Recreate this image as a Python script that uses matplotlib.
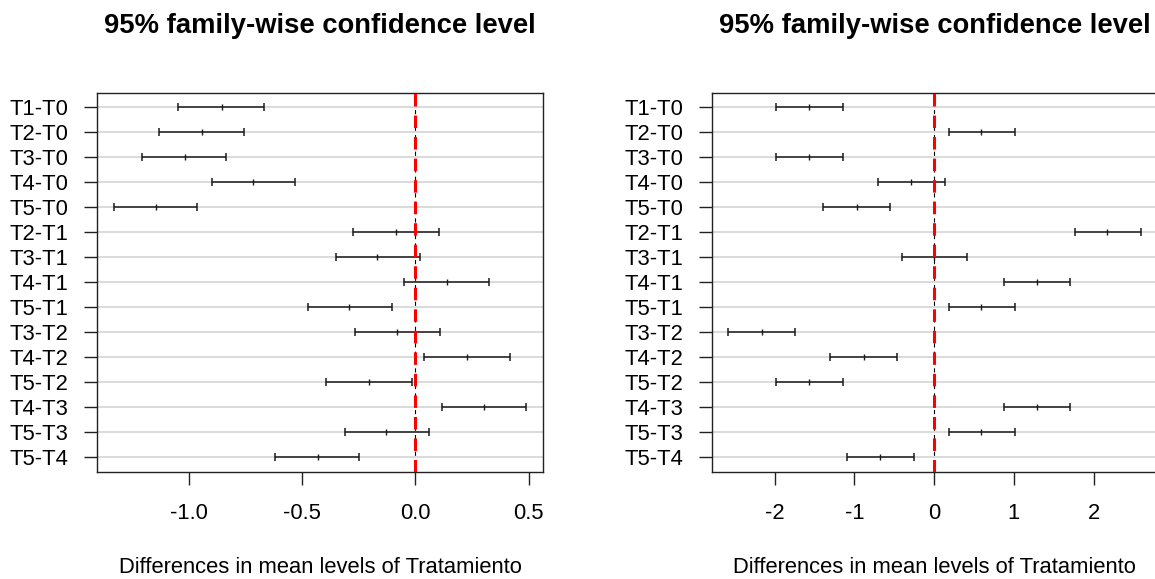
import matplotlib
matplotlib.use("Agg")
import matplotlib.pyplot as plt
import numpy as np

plt.rcParams['font.family'] = ['Liberation Sans', 'DejaVu Sans']
plt.rcParams['axes.unicode_minus'] = False
plt.rcParams['lines.scale_dashes'] = False

comparisons = ["T1-T0", "T2-T0", "T3-T0", "T4-T0", "T5-T0", "T2-T1", "T3-T1",
               "T4-T1", "T5-T1", "T3-T2", "T4-T2", "T5-T2", "T4-T3", "T5-T3", "T5-T4"]

diff_left = [-0.855, -0.944, -1.019, -0.718, -1.144, -0.085, -0.168, 0.140,
             -0.292, -0.080, 0.227, -0.205, 0.304, -0.130, -0.431]
lwr_left = [-1.046, -1.132, -1.208, -0.900, -1.333, -0.274, -0.350, -0.049,
            -0.475, -0.268, 0.039, -0.394, 0.120, -0.311, -0.619]
upr_left = [-0.668, -0.757, -0.838, -0.531, -0.963, 0.103, 0.019, 0.327,
            -0.103, 0.109, 0.416, -0.016, 0.491, 0.059, -0.248]

diff_right = [-1.573, 0.592, -1.573, -0.292, -0.969, 2.169, 0.000, 1.284,
              0.592, -2.158, -0.881, -1.573, 1.284, 0.592, -0.685]
lwr_right = [-1.978, 0.183, -1.978, -0.701, -1.394, 1.765, -0.400, 0.876,
             0.183, -2.583, -1.310, -1.978, 0.876, 0.183, -1.094]
upr_right = [-1.143, 1.018, -1.143, 0.133, -0.559, 2.595, 0.413, 1.706,
             1.018, -1.745, -0.468, -1.143, 1.698, 1.018, -0.259]

ticks_left = [-1.0, -0.5, 0.0, 0.5]
ticks_left_labels = ["-1.0", "-0.5", "0.0", "0.5"]
ticks_right = [-2, -1, 0, 1, 2]
ticks_right_labels = ["-2", "-1", "0", "1", "2"]

title_text = "95% family-wise confidence level"
xlabel_text = "Differences in mean levels of Tratamiento"

W, H = 1155, 579
fig = plt.figure(figsize=(W / 100, H / 100), dpi=100)

ax_w = 446 / W
ax_h = 378.5 / H
ax_b = (H - 471.5) / H
axL = fig.add_axes([97 / W, ax_b, ax_w, ax_h])
axR = fig.add_axes([711.7 / W, ax_b, ax_w, ax_h])


def draw(ax, diff, lwr, upr, ticks, tick_labels):
    n = len(comparisons)
    yvals = np.arange(n, 0, -1)
    lo, hi = min(lwr), max(upr)
    ext = 0.04 * (hi - lo)
    ax.set_xlim(lo - ext, hi + ext)
    ax.set_ylim(1 - 0.04 * (n - 1), n + 0.04 * (n - 1))
    for y in yvals:
        ax.axhline(y, color='#d8d8d8', lw=1.3, zorder=1)
    ax.axvline(0, color='black', lw=0.8, dashes=(3, 3), zorder=2)
    ax.hlines(yvals, lwr, upr, color='#1a1a1a', lw=1.1, zorder=3)
    ax.plot(lwr, yvals, ls='none', marker='|', ms=5.5, mew=1.1, color='#1a1a1a', zorder=3)
    ax.plot(upr, yvals, ls='none', marker='|', ms=5.5, mew=1.1, color='#1a1a1a', zorder=3)
    ax.plot(diff, yvals, ls='none', marker='|', ms=5.0, mew=1.0, color='#1a1a1a', zorder=3)
    ax.axvline(0, color='red', lw=2.2, dashes=(9, 6.5), zorder=4)
    ax.set_yticks(yvals)
    ax.set_yticklabels(comparisons, fontsize=15.8)
    ax.set_xticks(ticks)
    ax.set_xticklabels(tick_labels, fontsize=15.8)
    ax.tick_params(axis='both', length=9.4, width=1.0, color='#222222')
    ax.tick_params(axis='x', pad=13.5)
    ax.tick_params(axis='y', pad=11.0)
    for sp in ax.spines.values():
        sp.set_linewidth(1.0)
        sp.set_color('#222222')
    ax.annotate(title_text, xy=(0.5, 1), xycoords='axes fraction',
                xytext=(0, 43.2), textcoords='offset points',
                ha='center', va='baseline', fontsize=19.7, fontweight='bold')
    ax.annotate(xlabel_text, xy=(0.5, 0), xycoords='axes fraction',
                xytext=(0, -73), textcoords='offset points',
                ha='center', va='baseline', fontsize=15.8)


draw(axL, diff_left, lwr_left, upr_left, ticks_left, ticks_left_labels)
draw(axR, diff_right, lwr_right, upr_right, ticks_right, ticks_right_labels)

fig.savefig("out.png", dpi=100)
